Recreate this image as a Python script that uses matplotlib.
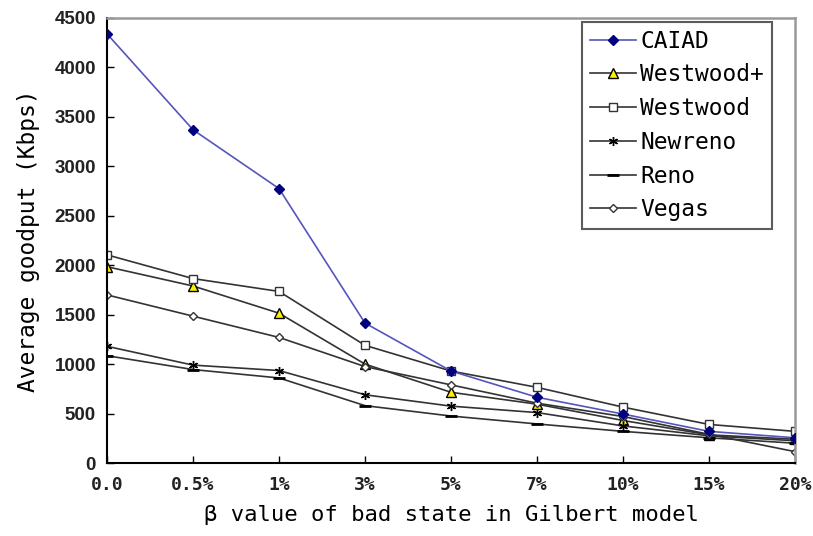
import matplotlib
matplotlib.use("Agg")
import matplotlib.pyplot as plt

categories = ["0.0", "0.5%", "1%", "3%", "5%", "7%", "10%", "15%", "20%"]
caiad     = [4340, 3370, 2775, 1415, 930, 665, 495, 320, 255]
westwoodp = [1985, 1790, 1515, 1000, 715, 595, 430, 285, 240]
westwood  = [2105, 1865, 1735, 1190, 930, 765, 565, 390, 320]
newreno   = [1180, 990, 935, 690, 575, 510, 375, 275, 225]
reno      = [1085, 945, 860, 580, 475, 395, 320, 255, 200]
vegas     = [1700, 1485, 1270, 975, 790, 605, 470, 290, 115]
yticks = [0, 500, 1000, 1500, 2000, 2500, 3000, 3500, 4000, 4500]

fig = plt.figure(figsize=(8.13, 5.36), dpi=100)
ax = fig.add_axes([107/813, 1-463/536, (795-107)/813, (463-18)/536])
x = list(range(len(categories)))
lc = "#333333"
mono = "DejaVu Sans Mono"

ax.plot(x, caiad, color="#5555bb", lw=1.2, marker="D", ms=5.5, mfc="#000080", mec="#000080", label="CAIAD", zorder=5)
ax.plot(x, westwoodp, color=lc, lw=1.2, marker="^", ms=6.5, mfc="#ffee00", mec="black", label="Westwood+")
ax.plot(x, westwood, color=lc, lw=1.2, marker="s", ms=6, mfc="white", mec="#333333", label="Westwood")
ax.plot(x, newreno, color=lc, lw=1.2, marker=(6, 2, 0), ms=6.5, mec="black", label="Newreno")
ax.plot(x, reno, color=lc, lw=1.2, marker="_", ms=8, mew=2, mec="black", label="Reno")
ax.plot(x, vegas, color=lc, lw=1.2, marker="D", ms=4.5, mfc="white", mec="#333333", label="Vegas")

ax.set_xlim(0, len(categories) - 1)
ax.set_ylim(0, 4500)
ax.set_xticks(x)
ax.set_xticklabels(categories, fontfamily=mono, fontsize=13, fontweight="bold")
ax.set_yticks(yticks)
ax.set_yticklabels([str(v) for v in yticks], fontfamily="Liberation Sans", fontsize=13.5, fontweight="bold")
ax.tick_params(direction="in", length=5, width=1, pad=8, colors="black")
ax.tick_params(axis="x", pad=9)
for lab in ax.get_xticklabels() + ax.get_yticklabels():
    lab.set_color("#222222")
ax.spines["left"].set_color("black")
ax.spines["bottom"].set_color("black")
ax.spines["top"].set_color("#999999")
ax.spines["right"].set_color("#999999")
for s in ax.spines.values():
    s.set_linewidth(1.5)
for s in ("top", "right"):
    ax.spines[s].set_linewidth(1.8)

ax.set_xlabel("β value of bad state in Gilbert model", fontfamily=mono, fontsize=16, labelpad=8)
ax.set_ylabel("Average goodput (Kbps)", fontfamily=mono, fontsize=16.5, labelpad=10)

leg = ax.legend(loc="upper right", bbox_to_anchor=(0.9667, 0.992), prop={"family": mono, "size": 16.5},
                frameon=True, fancybox=False, edgecolor="#333333", borderpad=0.35,
                handlelength=2.0, labelspacing=0.47, handletextpad=0.2, borderaxespad=0.0)
leg.get_frame().set_linewidth(1.5)

fig.savefig("out.png", dpi=100)
